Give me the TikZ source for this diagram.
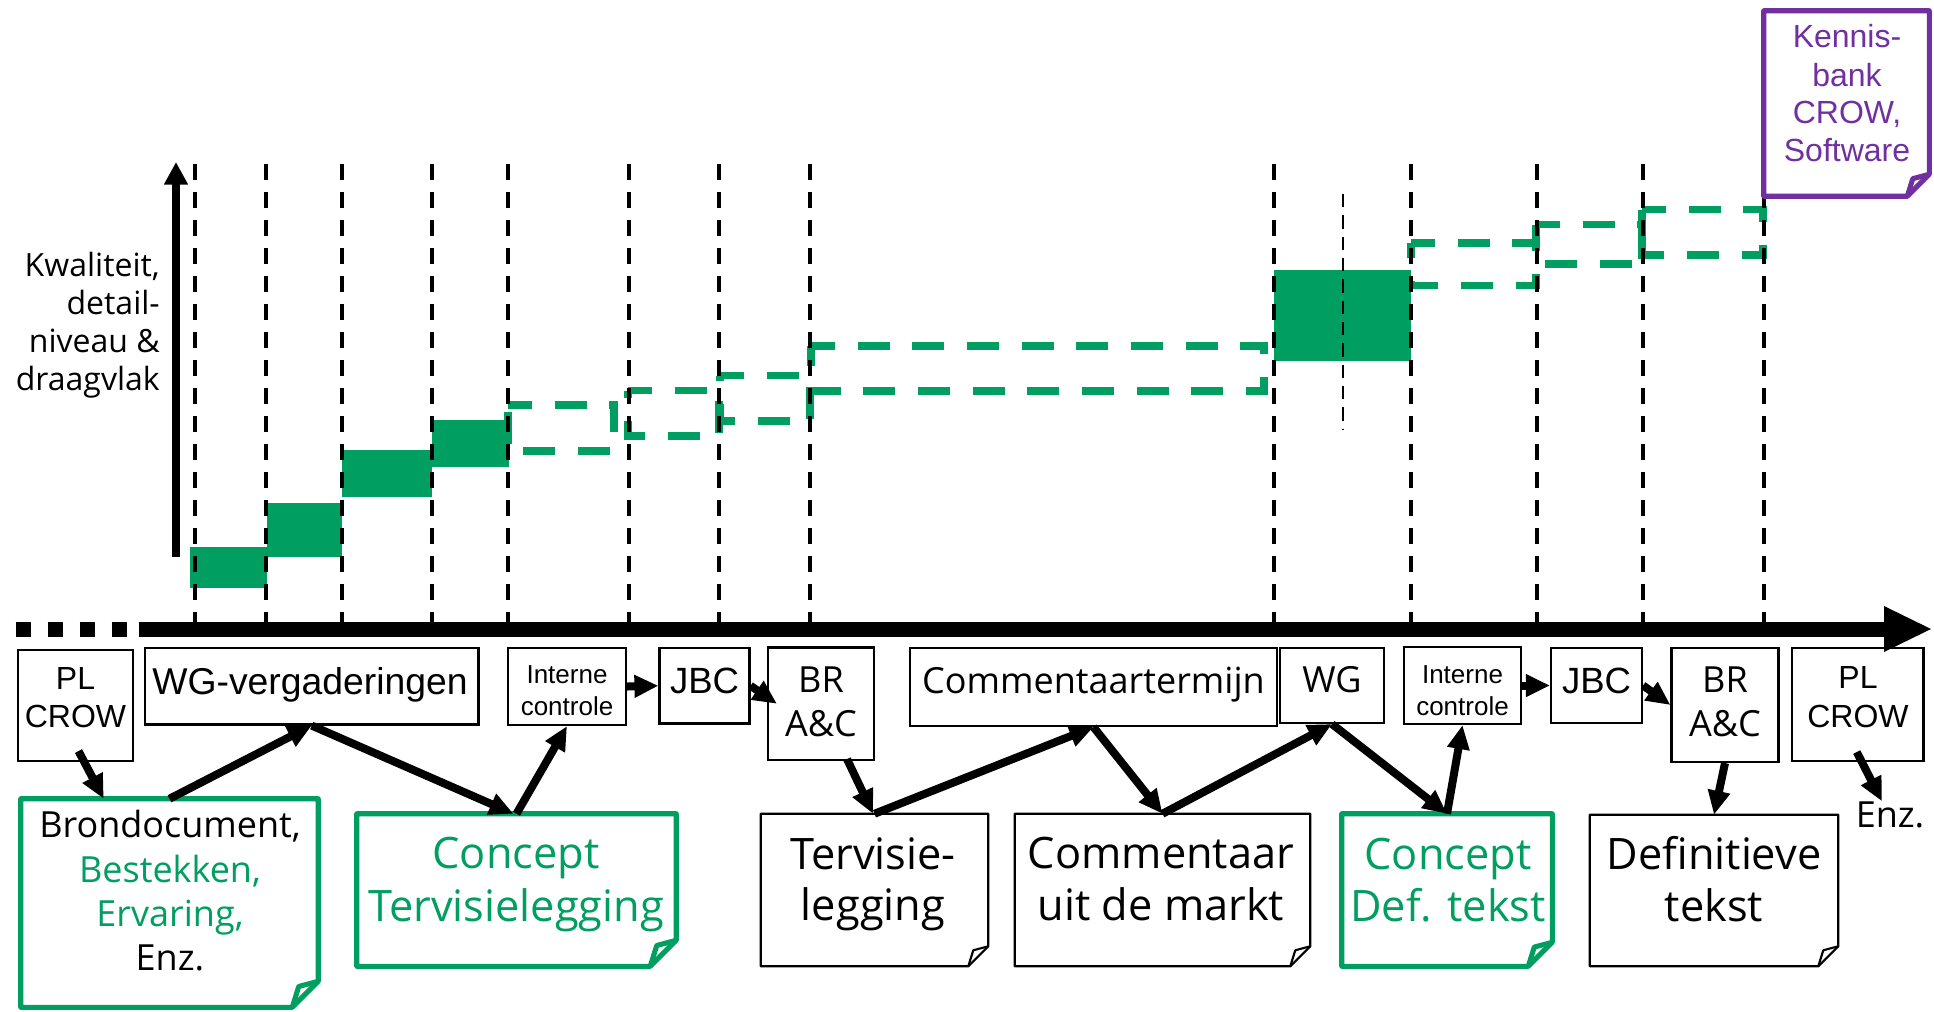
\documentclass[tikz,border=0pt]{standalone}
\usepackage{fontspec}
\setmainfont{Open Sans}
\newfontfamily\arialf{Liberation Sans}
\usetikzlibrary{arrows.meta,calc,fit}
\definecolor{grn}{RGB}{0,158,96}
\definecolor{prp}{RGB}{112,48,160}
\newcommand\foldnote[3]{%
  \draw[#2] (#1.north west) -- (#1.north east) -- ($(#1.south east)+(0,-#3)$) -- ($(#1.south east)+(-#3,0)$) -- (#1.south west) -- cycle;
  \draw[#2,fill=none] ($(#1.south east)+(-#3,0)$) -- ($(#1.south east)+(-0.75*#3,-0.8*#3)$) -- ($(#1.south east)+(0,-#3)$);}
\begin{document}
\begin{tikzpicture}[x=0.75pt,y=-0.75pt,
 txt/.style={inner sep=0pt,anchor=base},
 fA/.style={font=\arialf\fontsize{24}{28}\selectfont},
 fAwg/.style={font=\arialf\fontsize{28}{32}\selectfont},
 fAs/.style={font=\arialf\fontsize{19.5}{23}\selectfont},
 fAj/.style={font=\arialf\fontsize{27.4}{32}\selectfont},
 fO/.style={font=\fontsize{24}{28}\selectfont},
 fOm/.style={font=\fontsize{27}{32}\selectfont},
 fOl/.style={font=\fontsize{32.5}{38}\selectfont},
 box/.style={draw, line width=1.6pt, inner sep=0pt},
 area/.style={inner sep=0pt},
 gnote/.style={draw=grn, line width=3.8pt, fill=white, line join=round},
 bnote/.style={draw=black, line width=1.6pt, fill=white, line join=round},
 pnote/.style={draw=prp, line width=3.8pt, fill=white, line join=round},
 conn/.style={line width=6pt, -{Triangle[length=18pt,width=16pt]}},
 gridline/.style={line width=2.6pt, dash pattern=on 12pt off 9pt},
 band/.style={draw=grn, line width=5.6pt, dash pattern=on 24pt off 17pt, dash phase=6pt}
]
\useasboundingbox (0,0) rectangle (1934,1011);

% filled quality steps
\fill[grn] (190,547) rectangle (267,588);
\fill[grn] (267,503) rectangle (342,557);
\fill[grn] (342,450) rectangle (432,497);
\fill[grn] (432,420) rectangle (509,467);
\fill[grn] (1274,270) rectangle (1411,361);

% dashed bands
\draw[band] (508,405) -- (614,405) -- (614,451) -- (508,451) -- cycle;
\draw[band] (628,390.5) -- (719,390.5) -- (719,436) -- (628,436) -- cycle;
\draw[band] (720,375.5) -- (810,375.5) -- (810,421) -- (720,421) -- cycle;
\draw[band] (811,346) -- (1264,346) -- (1264,391) -- (811,391) -- cycle;
\draw[band] (1411,243) -- (1536,243) -- (1536,285.5) -- (1411,285.5) -- cycle;
\draw[band] (1536,224.5) -- (1642,224.5) -- (1642,264) -- (1536,264) -- cycle;
\draw[band] (1642,209.5) -- (1763,209.5) -- (1763,255) -- (1642,255) -- cycle;

% vertical time markers
\foreach \x in {195,266,342,432,508,629,719,810,1274,1411,1537,1643,1764}
  \draw[gridline] (\x,164) -- (\x,622);
\draw[line width=1.5pt, dash pattern=on 10pt off 6pt] (1343,194) -- (1343,429);

% axes
\draw[line width=11.25pt] (139,629) -- (1886,629);
\fill (1884,606) -- (1931,629) -- (1884,652) -- cycle;
\draw[line width=11.25pt, dash pattern=on 11.6pt off 12.4pt] (15.5,629) -- (127,629);
\draw[line width=5.5pt, -{Triangle[length=17pt,width=17pt]}] (176,557) -- (176,162);

% y-axis label
\node[txt,fO,anchor=base east] (k1) at (160,276) {Kwaliteit,};
\node[txt,fO,anchor=base east] (k2) at (160,314) {detail-};
\node[txt,fO,anchor=base east] (k3) at (160,352.5) {niveau \&};
\node[txt,fO,anchor=base east] (k4) at (160,390) {draagvlak};

% Kennisbank note
\node[area, fit={(1764,11) (1929,196)}] (kb) {};
\foldnote{kb}{pnote}{22}
\node[txt,fA,text=prp] (kb1) at (1847,47.7) {Kennis-};
\node[txt,fA,text=prp] (kb2) at (1847,86) {bank};
\node[txt,fA,text=prp] (kb3) at (1847,123.7) {CROW,};
\node[txt,fA,text=prp] (kb4) at (1847,161.8) {Software};

% process boxes
\node[box, fit={(18,650) (133,761)}] (pl1) {};
\node[box, fit={(145,648) (478.5,724.5)}] (wg1) {};
\node[box, fit={(508,648) (626,725)}] (ic1) {};
\node[box, fit={(659.5,648) (749.5,723.5)}] (jbc1) {};
\node[box, fit={(768,647.5) (874,760)}] (br1) {};
\node[box, fit={(910,648) (1277,726)}] (ct) {};
\node[box, fit={(1280,648) (1384,723)}] (wg2) {};
\node[box, fit={(1404,647) (1521,724)}] (ic2) {};
\node[box, fit={(1551,648) (1642,723)}] (jbc2) {};
\node[box, fit={(1671.5,648) (1778.5,762)}] (br2) {};
\node[box, fit={(1792,648) (1923.5,761)}] (pl2) {};

\node[txt,fA] (pl1a) at (75.5,689) {PL};
\node[txt,fA] (pl1b) at (75.5,727.5) {CROW};
\node[txt,fAwg] (wg1t) at (310,694) {WG-vergaderingen};
\node[txt,fAs] (ic1a) at (567,683.3) {Interne};
\node[txt,fAs] (ic1b) at (567,715) {controle};
\node[txt,fAj] (jbc1t) at (704.5,693.3) {JBC};
\node[txt,fOm] (br1a) at (821,692.7) {BR};
\node[txt,fOm] (br1b) at (821,736.7) {A\&C};
\node[txt,fOm] (ctt) at (1093.5,693.3) {Commentaartermijn};
\node[txt,fOm] (wg2t) at (1332,692.7) {WG};
\node[txt,fAs] (ic2a) at (1462.5,683.3) {Interne};
\node[txt,fAs] (ic2b) at (1462.5,715) {controle};
\node[txt,fAj] (jbc2t) at (1596.5,693.3) {JBC};
\node[txt,fOm] (br2a) at (1725,692.7) {BR};
\node[txt,fOm] (br2b) at (1725,736.7) {A\&C};
\node[txt,fA] (pl2a) at (1858,688.3) {PL};
\node[txt,fA] (pl2b) at (1858,727.3) {CROW};
\node[txt,fOm] (enz) at (1890,827.3) {Enz.};

% document notes
\node[area, fit={(21,799) (318,1007)}] (brond) {};
\foldnote{brond}{gnote}{26}
\node[txt,fOm] (b1) at (170,837.3) {Brondocument,};
\node[txt,fOm,text=grn] (b2) at (170,882.7) {Bestekken,};
\node[txt,fOm,text=grn] (b3) at (170,926.7) {Ervaring,};
\node[txt,fOm] (b4) at (170,970.7) {Enz.};

\node[area, fit={(357,814) (676,966)}] (c1) {};
\foldnote{c1}{gnote}{26}
\node[txt,fOl,text=grn] (c1a) at (516,868.3) {Concept};
\node[txt,fOl,text=grn] (c1b) at (516,921.7) {Tervisielegging};

\node[area, fit={(761,814) (988,966)}] (terv) {};
\foldnote{terv}{bnote}{20}
\node[txt,fOl] (tva) at (873,869.3) {Tervisie-};
\node[txt,fOl] (tvb) at (873,920.5) {legging};

\node[area, fit={(1015,814) (1310,966)}] (cm) {};
\foldnote{cm}{bnote}{20}
\node[txt,fOl] (cma) at (1161,868.5) {Commentaar};
\node[txt,fOl] (cmb) at (1161,920.5) {uit de markt};

\node[area, fit={(1342,814) (1552,966)}] (cdef) {};
\foldnote{cdef}{gnote}{24}
\node[txt,fOl,text=grn] (cda) at (1448,869) {Concept};
\node[txt,fOl,text=grn] (cdb) at (1448,921) {Def. tekst};

\node[area, fit={(1590,815) (1838,966)}] (def) {};
\foldnote{def}{bnote}{20}
\node[txt,fOl] (dfa) at (1714,869) {Definitieve};
\node[txt,fOl] (dfb) at (1714,921) {tekst};

% connectors
\draw[conn] ($(pl1.south)+(3,-11)$) -- ($(brond.north west)+(83,0)$);
\draw[conn] (brond.north) -- (wg1.south);
\draw[conn] (wg1.south) -- ($(c1.north)+(-3,0)$);
\draw[conn] (c1.north) -- (ic1.south);
\draw[conn] (ic1.east) -- (jbc1.west);
\draw[conn] (jbc1.east) -- ($(br1.west)+(10,0)$);
\draw[conn] ($(br1.south)+(26,-2)$) -- ($(terv.north)+(-1.5,0)$);
\draw[conn] (terv.north) -- (ct.south);
\draw[conn] (ct.south) -- (cm.north);
\draw[conn] (cm.north) -- (wg2.south);
\draw[conn] (wg2.south) -- (cdef.north);
\draw[conn] (cdef.north) -- (ic2.south);
\draw[conn] (ic2.east) -- (jbc2.west);
\draw[conn] (jbc2.east) -- (br2.west);
\draw[conn] (br2.south) -- (def.north);
\draw[conn] ($(pl2.south)+(-1,-10)$) -- ($(enz.north)+(-8,0)$);
\end{tikzpicture}
\end{document}
